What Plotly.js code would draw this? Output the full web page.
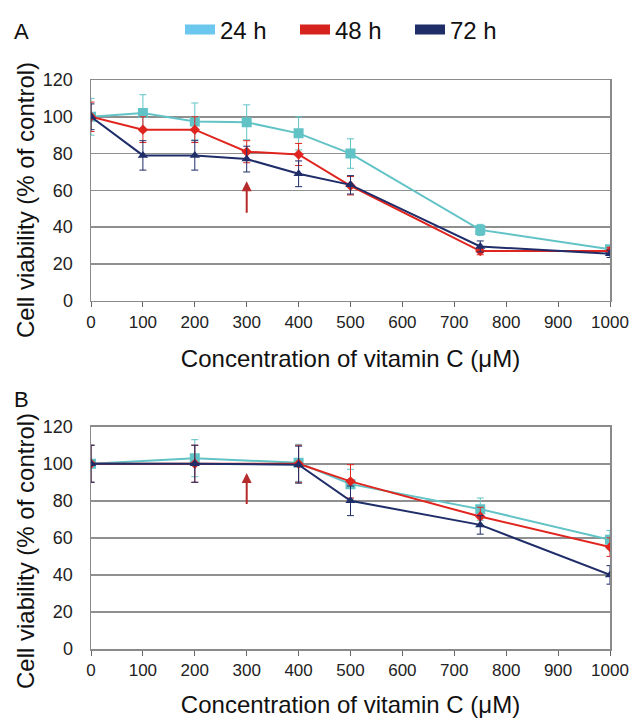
<!DOCTYPE html>
<html><head><meta charset="utf-8">
<script src="https://cdn.plot.ly/plotly-3.0.1.min.js"></script>
<style>html,body{margin:0;padding:0;background:#fff}#chart{width:630px;height:718px}</style>
</head><body><div id="chart"></div>
<script>
// Panel A
const concA = [0, 100, 200, 300, 400, 500, 750, 1000];
const a24 = [100, 102, 97.5, 97, 91, 80, 38.5, 28];
const a24err = [10, 10, 10, 9.5, 9, 8, 3, 2];
const a48 = [100, 93, 93, 81, 79.5, 62.5, 27, 27];
const a48err = [8, 7, 7, 6, 6, 5, 2, 2];
const a72 = [100, 79, 79, 77, 69, 63, 29.5, 25.5];
const a72err = [7, 8, 8, 7, 7, 5, 3, 2];
// Panel B
const concB = [0, 200, 400, 500, 750, 1000];
const b24 = [100, 103, 100.5, 89, 75.5, 59];
const b24err = [10, 10, 10, 8, 6, 5];
const b48 = [100, 100, 100, 90.5, 71.5, 55];
const b48err = [10, 10, 10, 9, 5, 5];
const b72 = [100, 100, 99.5, 80, 67, 40];
const b72err = [10, 10, 10, 8, 5, 5];
const seriesNames = ['24 h', '48 h', '72 h'];
const xTicks = [0, 100, 200, 300, 400, 500, 600, 700, 800, 900, 1000];
const yTicks = [0, 20, 40, 60, 80, 100, 120];
const xTitle = 'Concentration of vitamin C (\u03bcM)';
const yTitle = 'Cell viability (% of control)';

const lineCol = ['#62c3c6', '#e0251f', '#1f2d69'];
const legCol = ['#6cc7ee', '#d6231d', '#1f2d69'];
const symbols = ['square', 'diamond', 'triangle-up'];
const msize = [10, 8, 9];

function mk(x, y, err, i, xa, ya) {
  return {
    x: x, y: y, type: 'scatter', mode: 'lines+markers', xaxis: xa, yaxis: ya,
    showlegend: false, name: seriesNames[i],
    line: {color: lineCol[i], width: 2},
    marker: {symbol: symbols[i], size: msize[i], color: lineCol[i]},
    error_y: {type: 'data', array: err, visible: true, color: lineCol[i], thickness: 1, width: 3.5}
  };
}
const traces = [
  mk(concA, a24, a24err, 0, 'x', 'y'),
  mk(concA, a48, a48err, 1, 'x', 'y'),
  mk(concA, a72, a72err, 2, 'x', 'y'),
  mk(concB, b24, b24err, 0, 'x2', 'y2'),
  mk(concB, b48, b48err, 1, 'x2', 'y2'),
  mk(concB, b72, b72err, 2, 'x2', 'y2')
];
for (let i = 0; i < 3; i++) {
  traces.push({x: [null], y: [null], type: 'scatter', mode: 'lines', name: seriesNames[i],
    showlegend: true, line: {color: legCol[i], width: 10}, xaxis: 'x', yaxis: 'y'});
}

const W = 630, H = 718;
const xdom = [91 / W, 610 / W];
const yA = [1 - 300.7 / H, 1 - 80 / H];
const yB = [1 - 649 / H, 1 - 426.7 / H];
const fontFam = 'Liberation Sans, Arial, sans-serif';
const tickFam = 'Liberation Sans Narrow, Arial Narrow, Liberation Sans, sans-serif';

function xax(dom, anchor) {
  return {domain: dom, anchor: anchor, range: [0, 1000], tickvals: xTicks, ticktext: xTicks.map(String),
    automargin: false,
    ticks: 'outside', ticklen: 5, tickcolor: '#666', showgrid: false, zeroline: false,
    showline: true, linecolor: '#8a8a8a', linewidth: 1.5, mirror: true,
    tickfont: {size: 17, color: '#222', family: tickFam},
    title: {text: xTitle, font: {size: 24, color: '#111', family: fontFam}, standoff: 19}};
}
function yax(dom, anchor) {
  return {domain: dom, anchor: anchor, range: [0, 120], tickvals: yTicks, ticktext: yTicks.map(String),
    automargin: false,
    ticks: '', showgrid: true, gridcolor: '#8f8f8f', gridwidth: 1.5, zeroline: false,
    showline: true, linecolor: '#8a8a8a', linewidth: 1.5, mirror: true, ticklabelstandoff: 13,
    tickfont: {size: 18, color: '#222', family: tickFam}};
}

const layout = {
  width: W, height: H, margin: {l: 0, r: 0, t: 0, b: 0, autoexpand: false},
  paper_bgcolor: '#fff', plot_bgcolor: '#fff',
  font: {family: fontFam},
  xaxis: xax(xdom, 'y'), yaxis: yax(yA, 'x'),
  xaxis2: xax(xdom, 'y2'), yaxis2: yax(yB, 'x2'),
  showlegend: true,
  legend: {orientation: 'h', x: 180 / W, xanchor: 'left', y: 1 - 30 / H, yanchor: 'middle',
    font: {size: 24, color: '#111', family: fontFam}, itemwidth: 30,
    entrywidth: 70, entrywidthmode: 'pixels', bgcolor: 'rgba(0,0,0,0)'},
  annotations: [
    {xref: 'paper', yref: 'paper', x: 12 / W, y: 1 - 32 / H, text: 'A', showarrow: false, xanchor: 'left', yanchor: 'middle', font: {size: 22, color: '#111'}},
    {xref: 'paper', yref: 'paper', x: 12 / W, y: 1 - 399 / H, text: 'B', showarrow: false, xanchor: 'left', yanchor: 'middle', font: {size: 22, color: '#111'}},
    {xref: 'paper', yref: 'paper', x: 25 / W, y: 1 - 200 / H, text: yTitle, textangle: -90, showarrow: false, xanchor: 'center', yanchor: 'middle', font: {size: 24, color: '#111', family: fontFam}},
    {xref: 'paper', yref: 'paper', x: 25 / W, y: 1 - 551 / H, text: yTitle, textangle: -90, showarrow: false, xanchor: 'center', yanchor: 'middle', font: {size: 24, color: '#111', family: fontFam}},
    {xref: 'x', yref: 'y', x: 300, y: 65, axref: 'x', ayref: 'y', ax: 300, ay: 47, text: '', showarrow: true, arrowhead: 2, arrowsize: 1, arrowwidth: 2, arrowcolor: '#b52a2a'},
    {xref: 'x2', yref: 'y2', x: 300, y: 95, axref: 'x2', ayref: 'y2', ax: 300, ay: 77.5, text: '', showarrow: true, arrowhead: 2, arrowsize: 1, arrowwidth: 2, arrowcolor: '#b52a2a'}
  ]
};
Plotly.newPlot('chart', traces, layout, {displayModeBar: false, staticPlot: true});
</script></body></html>
